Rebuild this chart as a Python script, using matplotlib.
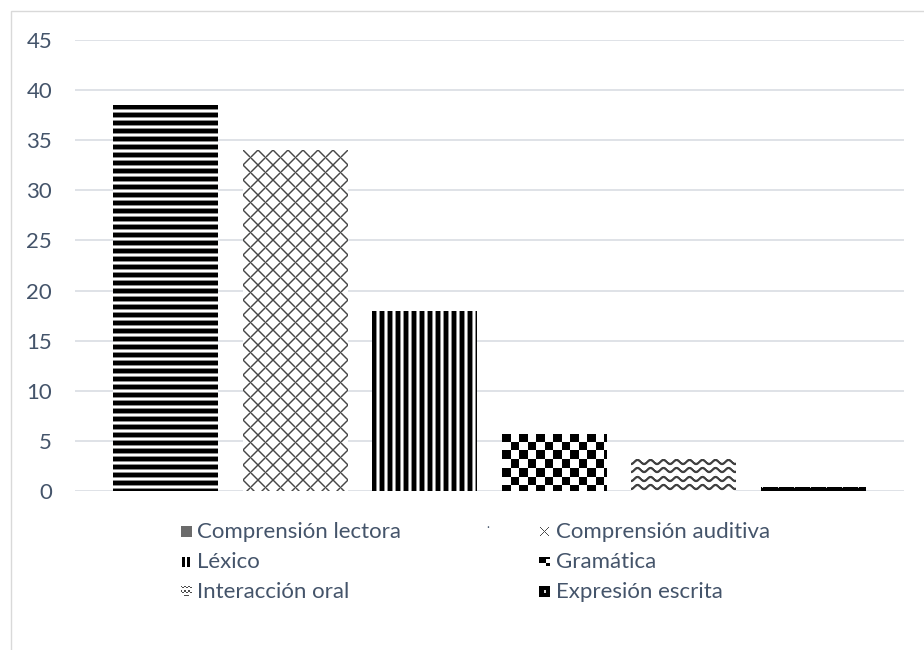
import numpy as np
import matplotlib
matplotlib.use("Agg")
import matplotlib.pyplot as plt
from matplotlib.patches import Rectangle

# Data
categories = ["Comprensión lectora", "Comprensión auditiva", "Léxico",
              "Gramática", "Interacción oral", "Expresión escrita"]
values = [38.5, 34.0, 18.0, 5.7, 3.2, 0.4]
y_ticks = [0, 5, 10, 15, 20, 25, 30, 35, 40, 45]

TEXT = "#44546A"
GRID = "#D9DDE3"
FONT = "Lato"
FS = 16
plt.rcParams["font.family"] = [FONT, "DejaVu Sans"]


# ---- pattern tiles (grayscale: 0 black, 1 white) ----
def tile_hstripes():
    return np.array([0, 0, 0, 0, 0.55, 1, 1, 0.55])[:, None] * np.ones((1, 8))


def tile_vstripes():
    return np.ones((8, 1)) * np.array([0, 0, 0, 0, 0.55, 1, 1, 0.55])[None, :]


def tile_lattice(n=15):
    i, j = np.mgrid[0:n, 0:n]
    d1 = np.abs(((i - j + n // 2) % n) - n // 2).astype(float)
    d2 = np.abs(((i + j - n // 2) % n) - n // 2).astype(float)
    d = np.minimum(d1, d2)
    t = np.ones((n, n))
    t[d <= 0.5] = 0.28
    t[(d > 0.5) & (d <= 1.0)] = 0.62
    return t


def tile_checker(a=9, b=8):
    n = a + b
    t = np.ones((n, n))
    t[:a, :a] = 0
    t[a:, a:] = 0
    return t


def tile_wave(period=13, gap=8, amp=2.0, half=0.6):
    t = np.ones((gap, period))
    sub = 8
    for k in range(period * sub):
        xx = k / sub
        yy = gap / 2 - 0.5 + amp * np.cos(2 * np.pi * xx / period)
        c = int(xx) % period
        for r in range(gap):
            dist = abs(r - yy)
            v = 0.25 if dist <= half else (0.25 + 0.75 * min(dist - half, 1.0))
            t[r, c] = min(t[r, c], v)
    return t


def tile_dots(n=16):
    t = np.zeros((n, n))
    t[1, 1] = 0.8
    return t


def tiled(tile, h, w):
    th, tw = tile.shape
    reps = (int(np.ceil(h / th)) + 1, int(np.ceil(w / tw)) + 1)
    return np.tile(tile, reps)[:h, :w]


tiles = [tile_hstripes(), tile_lattice(), tile_vstripes(),
         tile_checker(), tile_wave(), tile_dots()]

# ---- figure ----
W, H, DPI = 924, 650, 100
fig = plt.figure(figsize=(W / DPI, H / DPI), dpi=DPI)
fig.patch.set_facecolor("white")

# chart frame
fig.add_artist(Rectangle((10.5 / W, -0.1), 2.0, (H - 10.5) / H + 0.1,
                         transform=fig.transFigure, fill=False,
                         edgecolor="#D9D9D9", linewidth=1.0))

ax = fig.add_axes([75 / W, (H - 491) / H, (904 - 75) / W, (491 - 40) / H])
ax.set_facecolor("none")
for s in ax.spines.values():
    s.set_visible(False)

x = np.arange(len(categories))
bar_w = 0.81
ax.set_xlim(-0.698, len(categories) - 1 + 0.698)
ax.set_ylim(0, 45)
ax.set_yticks(y_ticks)
ax.set_yticklabels([str(t) for t in y_ticks], fontsize=FS, color=TEXT)
ax.tick_params(axis="y", length=0, pad=16.5)
ax.set_xticks([])
ax.yaxis.grid(True, color=GRID, linewidth=1.2)
ax.set_axisbelow(True)

bars = ax.bar(x, values, width=bar_w, color="white", edgecolor="none", zorder=2)

# fill each bar with its pattern, sized in screen pixels
for bar, tile in zip(bars, tiles):
    x0, x1 = bar.get_x(), bar.get_x() + bar.get_width()
    y1 = bar.get_height()
    (px0, py0), (px1, py1) = ax.transData.transform([(x0, 0), (x1, y1)])
    wpx = max(int(round(px1 - px0)), 1)
    hpx = max(int(round(py1 - py0)), 1)
    img = tiled(tile, hpx, wpx)
    im = ax.imshow(img, extent=(x0, x1, 0, y1), origin="upper", cmap="gray",
                   vmin=0, vmax=1, interpolation="nearest", aspect="auto",
                   zorder=3)
    im.set_clip_path(bar)

ax.set_xlim(-0.698, len(categories) - 1 + 0.698)
ax.set_ylim(0, 45)


# ---- legend ----
def marker_gray(n=11):
    return np.full((n, n), 0.42)


def marker_x(n=11):
    t = np.ones((n, n))
    for k in range(1, n - 1):
        t[k, k] = 0.3
        t[k, n - 1 - k] = 0.3
    return t


def marker_bars(n=11):
    t = np.ones((n, n))
    t[1:, 1:4] = 0
    t[1:, 6:9] = 0
    return t


def marker_checker(n=11):
    t = np.ones((n, n))
    t[1:7, 0:7] = 0
    t[7:10, 7:11] = 0
    t[1:3, 7:11] = 0
    return t


def marker_wave(n=11):
    t = np.ones((n, n))
    for r0 in (1, 5):
        for c in range(n):
            r = r0 + (1 if (c % 4) in (1, 2) else 0)
            t[r, c] = 0.3
    t[9, 3:8] = 0.3
    return t


def marker_dot(n=11):
    t = np.zeros((n, n))
    t[5:7, 5:7] = 0.85
    return t


legend_markers = [marker_gray(), marker_x(), marker_bars(),
                  marker_checker(), marker_wave(), marker_dot()]

# column-major placement: (marker left px, text left px) and baselines px
col_x = [(181, 197), (539, 556)]
row_base = [538, 568, 598]
order = [(0, 0), (1, 0), (0, 1), (1, 1), (0, 2), (1, 2)]
for (c, r), name, mk in zip(order, categories, legend_markers):
    mx, tx = col_x[c]
    yb = row_base[r]
    size = 11
    yc = yb - 6.5
    lax = fig.add_axes([mx / W, (H - yc - size / 2) / H, size / W, size / H])
    lax.imshow(mk, cmap="gray", vmin=0, vmax=1, interpolation="nearest",
               aspect="auto")
    lax.set_axis_off()
    fig.text(tx / W, (H - yb) / H, name, fontsize=FS, color=TEXT,
             ha="left", va="baseline")

fig.text(488 / W, (H - 528) / H, ".", fontsize=9, color=TEXT,
         ha="center", va="baseline")

fig.savefig("out.png", dpi=DPI, facecolor="white")
